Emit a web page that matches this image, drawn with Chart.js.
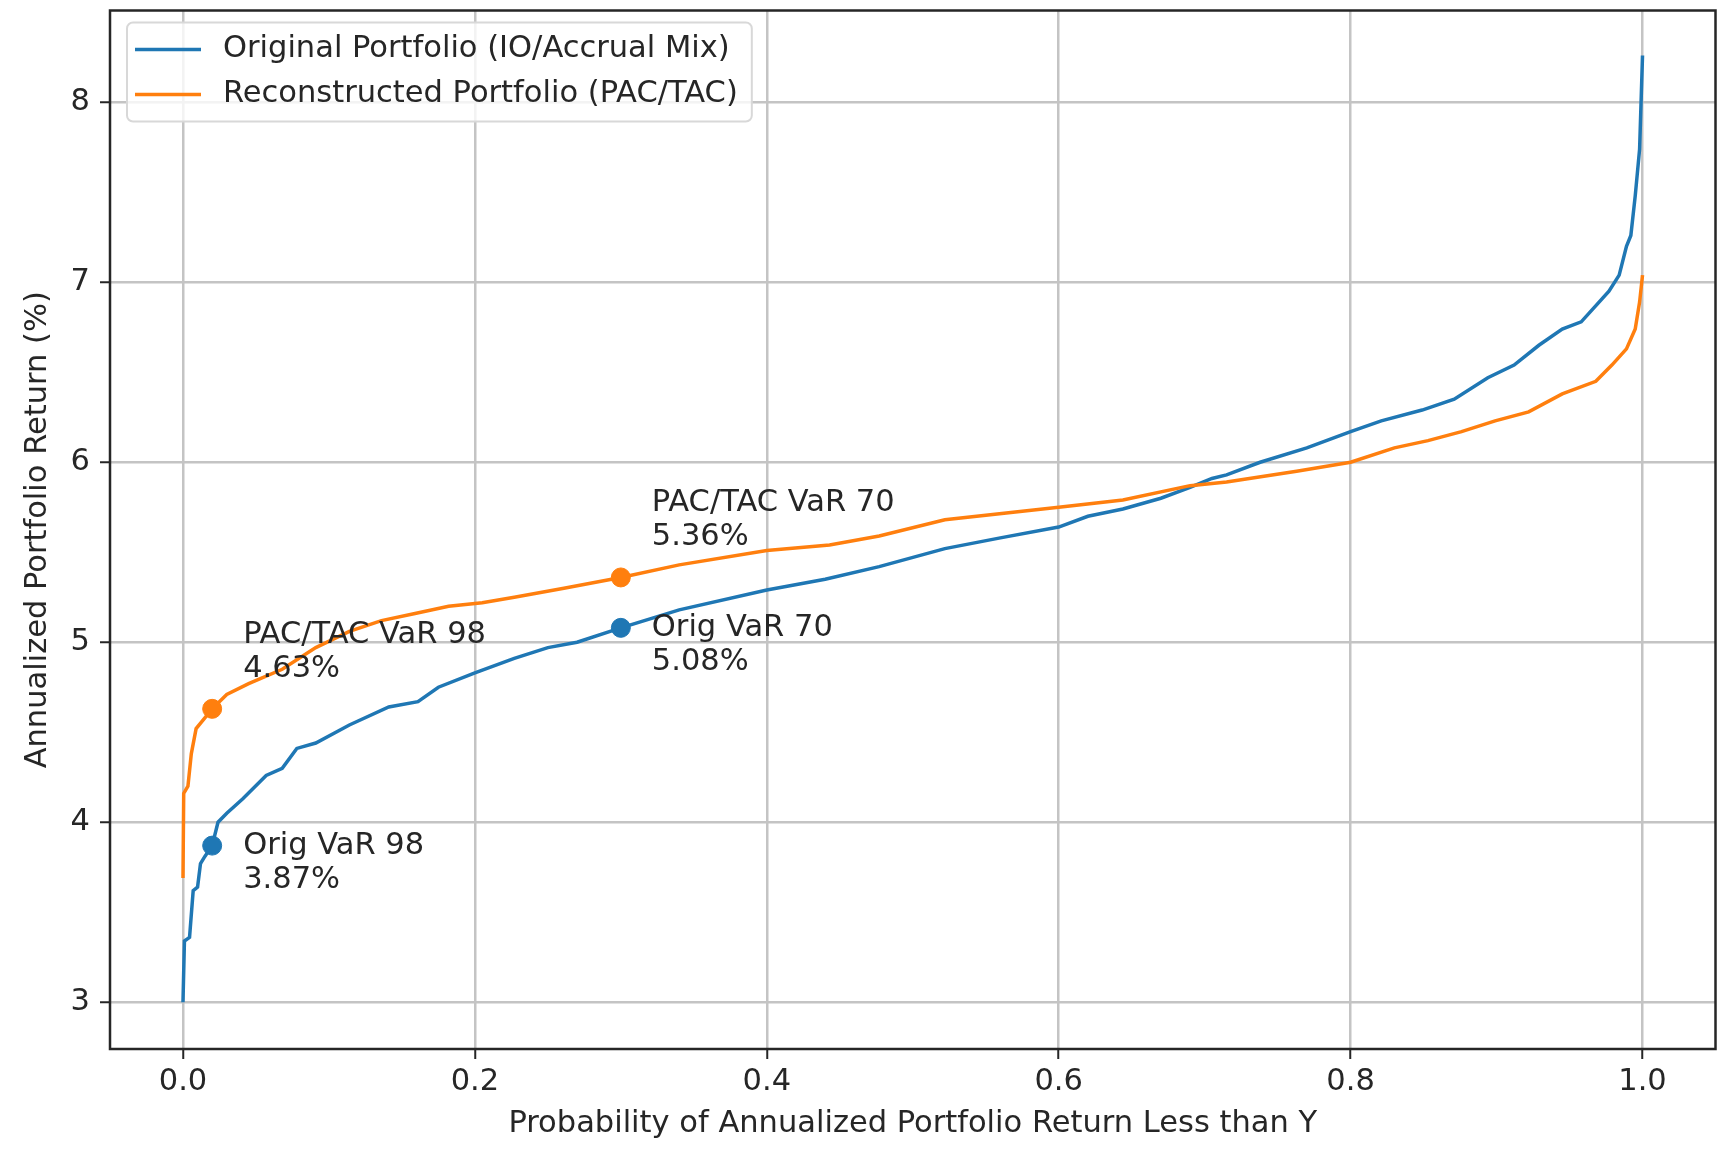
<!DOCTYPE html>
<html>
<head>
<meta charset="utf-8">
<script src="https://cdn.jsdelivr.net/npm/chart.js@4.4.1/dist/chart.umd.min.js"></script>
<style>
  html, body { margin: 0; padding: 0; background: #fff; overflow: hidden; }
  #wrap { width: 1726px; height: 1149px; position: relative; overflow: hidden; }
  #varChart { display: block; }
</style>
</head>
<body>
<div id="wrap"><canvas id="varChart"></canvas></div>
<script>
// 원 포트폴리오 (IO/Accrual) - 누적확률 vs 연환산 수익률
const probOrig = [0, 0.001, 0.0045, 0.007, 0.010, 0.012, 0.015, 0.020, 0.024, 0.030, 0.041, 0.057, 0.068, 0.078, 0.091,
  0.114, 0.141, 0.161, 0.175, 0.200, 0.227, 0.250, 0.270, 0.300, 0.340, 0.400, 0.440, 0.477, 0.522, 0.560, 0.600,
  0.620, 0.644, 0.670, 0.690, 0.705, 0.715, 0.738, 0.770, 0.800, 0.821, 0.849, 0.871, 0.894, 0.912, 0.929, 0.945,
  0.958, 0.977, 0.984, 0.989, 0.992, 0.995, 0.998, 1.000];
const retOrig = [3.00, 3.34, 3.36, 3.62, 3.64, 3.77, 3.81, 3.87, 4.00, 4.05, 4.13, 4.26, 4.30, 4.41, 4.44,
  4.54, 4.64, 4.67, 4.75, 4.83, 4.91, 4.97, 5.00, 5.08, 5.18, 5.29, 5.35, 5.42, 5.52, 5.58, 5.64,
  5.70, 5.74, 5.80, 5.86, 5.91, 5.93, 6.00, 6.08, 6.17, 6.23, 6.29, 6.35, 6.47, 6.54, 6.65, 6.74,
  6.78, 6.95, 7.04, 7.20, 7.26, 7.48, 7.74, 8.26];

// 재구성 포트폴리오 (PAC/TAC)
const probPac = [0, 0.0005, 0.0034, 0.0057, 0.009, 0.015, 0.020, 0.030, 0.045, 0.068, 0.091, 0.114, 0.136, 0.159,
  0.182, 0.205, 0.227, 0.261, 0.300, 0.340, 0.400, 0.443, 0.477, 0.522, 0.600, 0.644, 0.690, 0.715, 0.763,
  0.800, 0.830, 0.853, 0.876, 0.899, 0.922, 0.945, 0.968, 0.979, 0.989, 0.995, 0.998, 1.000];
const retPac = [3.69, 4.16, 4.20, 4.38, 4.52, 4.58, 4.63, 4.71, 4.77, 4.85, 4.97, 5.06, 5.12, 5.16,
  5.20, 5.22, 5.25, 5.30, 5.36, 5.43, 5.51, 5.54, 5.59, 5.68, 5.75, 5.79, 5.87, 5.89, 5.95,
  6.00, 6.08, 6.12, 6.17, 6.23, 6.28, 6.38, 6.45, 6.54, 6.63, 6.74, 6.89, 7.04];

// VaR 포인트
const varProb = [0.02, 0.30];
const varOrig = [3.87, 5.08];
const varPac = [4.63, 5.36];
const varOrigLabels = ['Orig VaR 98', 'Orig VaR 70'];
const varPacLabels = ['PAC/TAC VaR 98', 'PAC/TAC VaR 70'];

const seriesNames = ['Original Portfolio (IO/Accrual Mix)', 'Reconstructed Portfolio (PAC/TAC)'];
const xTitle = 'Probability of Annualized Portfolio Return Less than Y';
const yTitle = 'Annualized Portfolio Return (%)';

const BLUE = '#1f77b4';
const ORANGE = '#ff7f0e';
const FONT = 'DejaVu Sans';
const FSIZE = 30.5;

function toPoints(xs, ys) {
    return xs.map((x, i) => ({ x: x, y: ys[i] }));
}

// 박스 테두리 (matplotlib 스타일)
const framePlugin = {
    id: 'frame',
    afterDraw(chart) {
        const { ctx, chartArea } = chart;
        ctx.save();
        ctx.strokeStyle = '#262626';
        ctx.lineWidth = 2.5;
        ctx.strokeRect(chartArea.left, chartArea.top, chartArea.right - chartArea.left, chartArea.bottom - chartArea.top);
        ctx.restore();
    }
};

// VaR 주석
const notePlugin = {
    id: 'notes',
    afterDatasetsDraw(chart) {
        const { ctx, scales } = chart;
        ctx.save();
        ctx.font = FSIZE + 'px "' + FONT + '"';
        ctx.fillStyle = '#262626';
        ctx.textAlign = 'left';
        ctx.textBaseline = 'middle';
        varProb.forEach((p, i) => {
            const px = scales.x.getPixelForValue(p);
            let py = scales.y.getPixelForValue(varOrig[i]);
            ctx.fillText(varOrigLabels[i], px + 31, py);
            ctx.fillText(varOrig[i].toFixed(2) + '%', px + 31, py + 34);
            py = scales.y.getPixelForValue(varPac[i]);
            ctx.fillText(varPacLabels[i], px + 31, py - 74);
            ctx.fillText(varPac[i].toFixed(2) + '%', px + 31, py - 40);
        });
        ctx.restore();
    }
};

// 범례 (차트 영역 안쪽 왼쪽 위)
const legendPlugin = {
    id: 'innerLegend',
    afterDraw(chart) {
        const { ctx, chartArea } = chart;
        const colors = [BLUE, ORANGE];
        ctx.save();
        ctx.font = FSIZE + 'px "' + FONT + '"';
        const textW = Math.max(...seriesNames.map(s => ctx.measureText(s).width));
        const left = chartArea.left + 17;
        const top = chartArea.top + 12;
        const w = 96 + textW + 14;
        const h = 99;
        ctx.beginPath();
        ctx.roundRect(left, top, w, h, 6);
        ctx.fillStyle = 'rgba(255,255,255,0.8)';
        ctx.fill();
        ctx.strokeStyle = '#d8d8d8';
        ctx.lineWidth = 2;
        ctx.stroke();
        seriesNames.forEach((name, i) => {
            const y = top + 27 + i * 45;
            ctx.beginPath();
            ctx.moveTo(left + 8, y);
            ctx.lineTo(left + 74, y);
            ctx.strokeStyle = colors[i];
            ctx.lineWidth = 3.5;
            ctx.stroke();
            ctx.fillStyle = '#262626';
            ctx.textAlign = 'left';
            ctx.textBaseline = 'middle';
            ctx.fillText(name, left + 96, y);
        });
        ctx.restore();
    }
};

const ctx = document.getElementById('varChart').getContext('2d');
window.varChart = new Chart(ctx, {
    type: 'scatter',
    data: {
        datasets: [
            { label: 'Orig VaR', data: toPoints(varProb, varOrig), backgroundColor: BLUE, borderColor: BLUE,
              pointRadius: 9.5, showLine: false },
            { label: 'PAC/TAC VaR', data: toPoints(varProb, varPac), backgroundColor: ORANGE, borderColor: ORANGE,
              pointRadius: 9.5, showLine: false },
            { label: seriesNames[1], data: toPoints(probPac, retPac), borderColor: ORANGE, borderWidth: 3.5,
              pointRadius: 0, showLine: true, tension: 0 },
            { label: seriesNames[0], data: toPoints(probOrig, retOrig), borderColor: BLUE, borderWidth: 3.5,
              pointRadius: 0, showLine: true, tension: 0 }
        ]
    },
    options: {
        responsive: true,
        maintainAspectRatio: false,
        devicePixelRatio: 1,
        animation: false,
        layout: { padding: { top: 7, right: 4, left: 0, bottom: 0 } },
        plugins: {
            legend: { display: false },
            tooltip: { enabled: false }
        },
        scales: {
            x: {
                type: 'linear',
                min: -0.05,
                max: 1.05,
                afterFit(scale) { scale.height = 100; scale.paddingLeft = 0; scale.paddingRight = 0; },
                ticks: {
                    stepSize: 0.2,
                    includeBounds: false,
                    padding: 5,
                    color: '#262626',
                    font: { family: FONT, size: FSIZE },
                    callback: v => v.toFixed(1)
                },
                grid: { color: '#c4c4c4', lineWidth: 2.5, tickColor: '#262626', tickLength: 10, tickWidth: 2 },
                border: { display: false },
                title: { display: true, text: xTitle, color: '#262626', font: { family: FONT, size: FSIZE },
                         padding: { top: 0, bottom: 7 } }
            },
            y: {
                type: 'linear',
                min: 2.74,
                max: 8.51,
                afterFit(scale) { scale.width = 110; scale.paddingTop = 0; scale.paddingBottom = 0; },
                ticks: {
                    stepSize: 1,
                    includeBounds: false,
                    padding: 10,
                    color: '#262626',
                    font: { family: FONT, size: FSIZE }
                },
                grid: { color: '#c4c4c4', lineWidth: 2.5, tickColor: '#262626', tickLength: 10, tickWidth: 2 },
                border: { display: false },
                title: { display: true, text: yTitle, color: '#262626', font: { family: FONT, size: FSIZE },
                         padding: { top: 20, bottom: 0 } }
            }
        }
    },
    plugins: [framePlugin, notePlugin, legendPlugin]
});
</script>
</body>
</html>
